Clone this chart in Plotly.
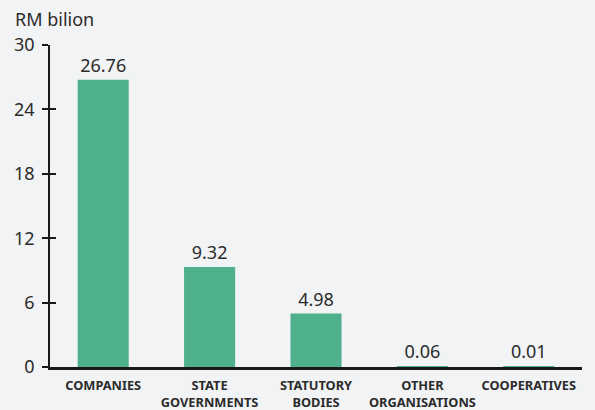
import plotly.graph_objects as go

categories = ["COMPANIES", "STATE<br>GOVERNMENTS", "STATUTORY<br>BODIES", "OTHER<br>ORGANISATIONS", "COOPERATIVES"]
values = [26.76, 9.32, 4.98, 0.06, 0.01]
tick_vals = [0, 6, 12, 18, 24, 30]
unit_label = "RM bilion"

FONT = "Noto Sans"
BAR = "#4FB08C"
BG = "#F2F3F5"
INK = "#2b2b2b"

fig = go.Figure()
fig.add_trace(go.Bar(
    x=categories, y=values,
    marker=dict(color=BAR, line=dict(width=0)),
    texttemplate="%{y:.2f}", textposition="outside",
    textfont=dict(family=FONT, size=18, color=INK),
    cliponaxis=False, hoverinfo="skip",
))
# invisible trace on overlay axis for inside ticks
fig.add_trace(go.Scatter(x=categories, y=values, yaxis="y2", mode="markers",
                         marker=dict(opacity=0), hoverinfo="skip", showlegend=False))

fig.update_layout(
    width=595, height=410,
    margin=dict(l=50, r=13, t=45, b=43),
    paper_bgcolor=BG, plot_bgcolor=BG,
    showlegend=False,
    bargap=0.52,
    font=dict(family=FONT, color=INK),
    title=dict(text=unit_label, x=15/595, xref="container", xanchor="left",
               y=1-20/410, yref="container", yanchor="middle",
               font=dict(family=FONT, size=18, color=INK)),
    xaxis=dict(showline=True, linecolor="#1a1a1a", linewidth=2.5, ticks="",
               showgrid=False, zeroline=False, automargin=False, tickangle=0,
               ticklabelstandoff=5,
               tickfont=dict(family=FONT, size=12.8, color=INK, weight="bold")),
    yaxis=dict(range=[0, 30], tickvals=tick_vals, showgrid=False, zeroline=False,
               showline=True, linecolor="#1a1a1a", linewidth=1.5, automargin=False,
               ticks="outside", ticklen=6, tickwidth=1.5, tickcolor="#1a1a1a",
               tickfont=dict(family=FONT, size=18, color=INK), ticklabelstandoff=4),
    yaxis2=dict(range=[0, 30], tickvals=tick_vals, overlaying="y", side="left",
                anchor="x", showgrid=False, zeroline=False, showline=False,
                ticks="inside", ticklen=6, tickwidth=1.5, tickcolor="#1a1a1a",
                showticklabels=False),
)

fig.write_html("out.html")
